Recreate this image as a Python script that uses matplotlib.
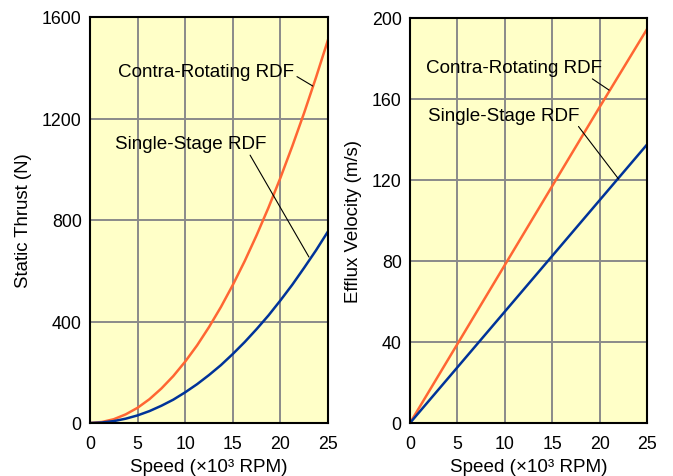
import matplotlib
matplotlib.use("Agg")
import matplotlib.pyplot as plt

plt.rcParams['font.family'] = ['Liberation Sans', 'DejaVu Sans']

# speed in 10^3 RPM
speed_thrust = [0, 1.25, 2.5, 3.75, 5, 6.25, 7.5, 8.75, 10, 11.25, 12.5,
                13.75, 15, 16.25, 17.5, 18.75, 20, 21.25, 22.5, 23.75, 25]
thrust_contra = [0, 4, 15, 34, 60, 94, 136, 185, 242, 306, 378,
                 457, 544, 638, 740, 849, 966, 1091, 1223, 1363, 1510]
thrust_single = [0, 2, 7.5, 17, 30, 47, 68, 92, 121, 153, 189,
                 228, 272, 319, 370, 424, 483, 545, 612, 681, 755]

speed_efflux = [0, 5, 10, 15, 20, 25]
efflux_contra = [0, 39, 78, 117, 156, 194.5]
efflux_single = [0, 27.5, 55, 82.5, 110, 137.5]

x_ticks = [0, 5, 10, 15, 20, 25]
thrust_ticks = [0, 400, 800, 1200, 1600]
efflux_ticks = [0, 40, 80, 120, 160, 200]

orange = '#ff6633'
blue = '#003399'
bg = '#ffffc8'

fig = plt.figure(figsize=(6.73, 4.77), dpi=100)
ax1 = fig.add_axes([90 / 673, 53 / 477, 238 / 673, 406 / 477])
ax2 = fig.add_axes([410 / 673, 53 / 477, 237 / 673, 405 / 477])


def style(ax, yticks, ylabel):
    ax.set_facecolor(bg)
    ax.set_xlim(0, 25)
    ax.set_ylim(yticks[0], yticks[-1])
    ax.set_xticks(x_ticks)
    ax.set_yticks(yticks)
    ax.grid(True, color='#8a8a8a', linewidth=1.4)
    ax.set_axisbelow(True)
    for s in ax.spines.values():
        s.set_linewidth(1.5)
        s.set_color('black')
        s.set_zorder(5)
    ax.tick_params(length=0, labelsize=12.8)
    ax.tick_params(axis='x', pad=9)
    ax.tick_params(axis='y', pad=6)
    ax.set_xlabel('Speed (\u00d710\u00b3 RPM)', fontsize=13.6, labelpad=4)
    ax.set_ylabel(ylabel, fontsize=13.4, labelpad=7)


ann = dict(ha='center', va='center', fontsize=13.6)
line = dict(arrowstyle='-', color='black', lw=0.8, shrinkA=0, shrinkB=0)

ax1.plot(speed_thrust, thrust_contra, color=orange, linewidth=1.8, zorder=3)
ax1.plot(speed_thrust, thrust_single, color=blue, linewidth=1.8, zorder=3)
style(ax1, thrust_ticks, 'Static Thrust (N)')
ax1.annotate('Contra-Rotating RDF', xy=(23.4, 1328), xytext=(12.2, 1385),
             arrowprops=dict(line, relpos=(1, 0.3)), **ann)
ax1.annotate('Single-Stage RDF', xy=(23.0, 654), xytext=(10.6, 1100),
             arrowprops=dict(line, relpos=(0.88, 0.0)), **ann)

ax2.plot(speed_efflux, efflux_contra, color=orange, linewidth=1.8, zorder=3)
ax2.plot(speed_efflux, efflux_single, color=blue, linewidth=1.8, zorder=3)
style(ax2, efflux_ticks, 'Efflux Velocity (m/s)')
ax2.annotate('Contra-Rotating RDF', xy=(21.0, 164.4), xytext=(11.0, 175.5),
             arrowprops=dict(line, relpos=(0.92, 0.0)), **ann)
ax2.annotate('Single-Stage RDF', xy=(22.0, 120.5), xytext=(9.9, 152),
             arrowprops=dict(line, relpos=(0.97, 0.1)), **ann)

fig.savefig('out.png', dpi=100)
